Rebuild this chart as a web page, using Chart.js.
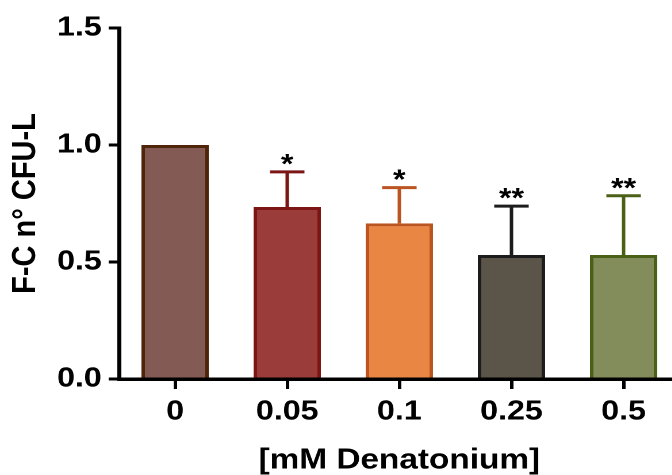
<!DOCTYPE html>
<html>
<head>
<meta charset="utf-8">
<script src="https://cdn.jsdelivr.net/npm/chart.js@4/dist/chart.umd.min.js"></script>
<style>
  html, body { margin: 0; padding: 0; overflow: hidden; background: #fff; }
  /* the source figure is stretched a bit horizontally */
  #wrap { width: 600px; height: 475px; transform: scaleX(1.15); transform-origin: 0 0; }
  #chart { width: 600px; height: 475px; display: block; }
</style>
</head>
<body>
<div id="wrap"><canvas id="chart" width="600" height="475"></canvas></div>
<script>
const categories = ['0', '0.05', '0.1', '0.25', '0.5'];
const meanValues = [1.0, 0.735, 0.665, 0.53, 0.53];
const errorValues = [0, 0.15, 0.153, 0.209, 0.253];
const significance = ['', '*', '*', '**', '**'];
const yTicks = [0, 0.5, 1.0, 1.5];

const fillColors = ['#845A54', '#9A3D3A', '#EA8643', '#5B5449', '#838C5B'];
const edgeColors = ['#4F2408', '#7B1614', '#BA5420', '#1C1C1C', '#4A6017'];

Chart.defaults.font.family = '"Liberation Sans", Arial, sans-serif';
Chart.defaults.font.weight = 'bold';
Chart.defaults.color = '#000';

// upper error bars + significance stars
const errorBarPlugin = {
    id: 'errorBars',
    afterDatasetsDraw(chart) {
        const ctx = chart.ctx;
        const y = chart.scales.y;
        const meta = chart.getDatasetMeta(0);
        meta.data.forEach((bar, i) => {
            let top = bar.y;
            if (errorValues[i]) {
                top = y.getPixelForValue(meanValues[i] + errorValues[i]);
                ctx.save();
                ctx.strokeStyle = edgeColors[i];
                ctx.lineWidth = 3;
                ctx.beginPath();
                ctx.moveTo(bar.x, bar.y);
                ctx.lineTo(bar.x, top);
                ctx.moveTo(bar.x - 15, top);
                ctx.lineTo(bar.x + 15, top);
                ctx.stroke();
                ctx.restore();
            }
            if (significance[i]) {
                ctx.save();
                ctx.fillStyle = '#000';
                ctx.font = 'bold 28px "Liberation Sans", Arial, sans-serif';
                ctx.textAlign = 'center';
                ctx.textBaseline = 'alphabetic';
                ctx.fillText(significance[i], bar.x, top + 1);
                ctx.restore();
            }
        });
    }
};

new Chart(document.getElementById('chart'), {
    type: 'bar',
    data: {
        labels: categories,
        datasets: [{
            data: meanValues,
            backgroundColor: fillColors,
            borderColor: edgeColors,
            borderWidth: 3,
            barPercentage: 0.6,
            categoryPercentage: 1
        }]
    },
    options: {
        responsive: false,
        devicePixelRatio: 2,
        animation: false,
        layout: { padding: { top: 28, right: 9, left: 0, bottom: 0 } },
        plugins: { legend: { display: false }, tooltip: { enabled: false } },
        scales: {
            x: {
                grid: { display: true, drawOnChartArea: false, offset: false, color: '#000', lineWidth: 3, tickLength: 10 },
                border: { display: true, color: '#000', width: 3.5 },
                ticks: { font: { size: 28, weight: 'bold' }, color: '#000', padding: 6, maxRotation: 0 },
                title: {
                    display: true,
                    text: '[mM Denatonium]',
                    font: { size: 29, weight: 'bold', lineHeight: 1 },
                    color: '#000',
                    padding: { top: 0, bottom: 0 }
                },
                afterFit(scale) {
                    scale.height = 96;
                    scale.paddingLeft = 0;
                    scale.paddingRight = 0;
                }
            },
            y: {
                min: 0,
                max: 1.5,
                afterBuildTicks(scale) {
                    scale.ticks = yTicks.map(v => ({ value: v }));
                },
                grid: { display: true, drawOnChartArea: false, color: '#000', lineWidth: 3, tickLength: 9 },
                border: { display: true, color: '#000', width: 3.5 },
                ticks: {
                    font: { size: 28, weight: 'bold' },
                    color: '#000',
                    padding: 6,
                    callback: v => Number(v).toFixed(1)
                },
                title: {
                    display: true,
                    text: 'F-C n° CFU-L',
                    font: { size: 29, weight: 'bold', lineHeight: 1 },
                    color: '#000',
                    padding: { top: 8, bottom: 0 }
                },
                afterFit(scale) {
                    scale.width = 103.5;
                    scale.paddingTop = 0;
                    scale.paddingBottom = 0;
                }
            }
        }
    },
    plugins: [errorBarPlugin]
});
</script>
</body>
</html>
